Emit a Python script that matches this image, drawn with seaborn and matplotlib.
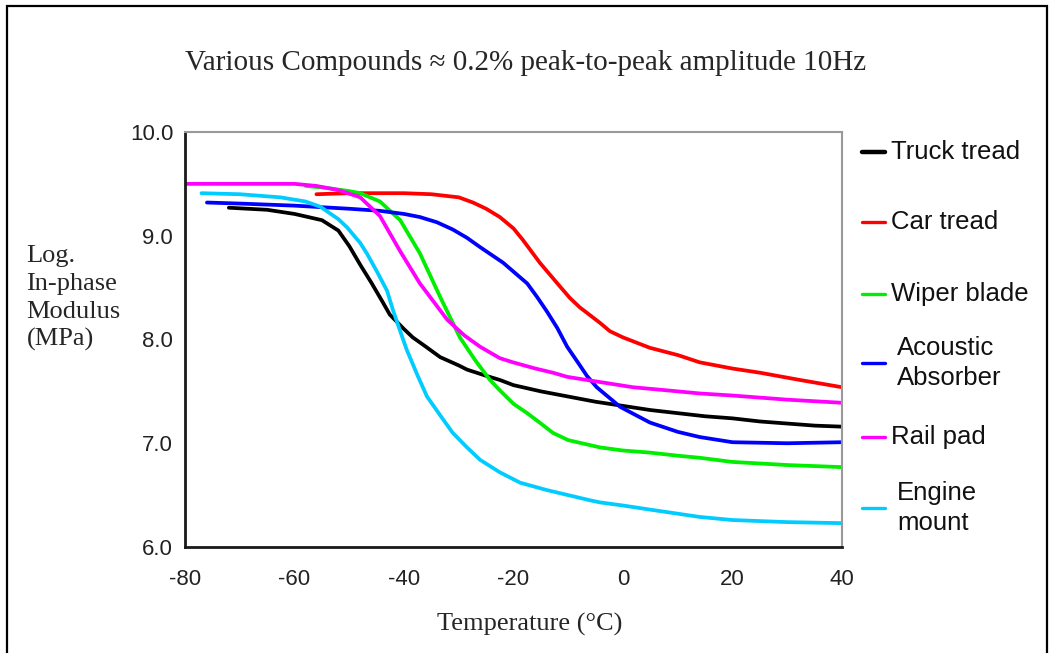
import pandas as pd
import matplotlib.pyplot as plt
from matplotlib.lines import Line2D
from matplotlib.patches import Rectangle
import seaborn as sns

# values
truck_x = [-72, -65, -60, -55, -52, -50, -48, -46, -44, -42.6, -40, -38.4, -36, -33.4, -30, -28.5, -25, -22.5,
           -20, -15, -10, -5, 0, 5, 10, 15, 20, 25, 30, 35, 40]
truck_y = [9.27, 9.25, 9.21, 9.15, 9.05, 8.9, 8.72, 8.55, 8.37, 8.24, 8.1, 8.02, 7.93, 7.83, 7.75, 7.71, 7.65, 7.61,
           7.56, 7.5, 7.45, 7.4, 7.36, 7.32, 7.29, 7.26, 7.24, 7.21, 7.19, 7.17, 7.16]

car_x = [-56, -50, -40, -35, -30, -27.4, -25, -22.5, -20, -18.3, -15.2, -11.5, -9.7, -7.9, -4.2, -2.4, 0, 4.9,
         10, 14, 20, 25, 32.3, 40]
car_y = [9.40, 9.41, 9.41, 9.40, 9.37, 9.32, 9.26, 9.18, 9.07, 8.96, 8.74, 8.51, 8.40, 8.31, 8.16, 8.08, 8.02, 7.92,
         7.85, 7.78, 7.72, 7.68, 7.61, 7.54]

wiper_x = [-58, -54, -50, -48, -44.4, -40.7, -37.1, -33.4, -29.8, -27, -24.3, -22.5, -20, -17.5, -15, -12.8, -10,
           -4.2, 0, 4.9, 10, 14, 20, 30, 40]
wiper_y = [9.48, 9.46, 9.43, 9.41, 9.33, 9.15, 8.83, 8.41, 8.02, 7.8, 7.61, 7.51, 7.38, 7.29, 7.19, 7.10, 7.03,
           6.96, 6.93, 6.91, 6.88, 6.86, 6.82, 6.79, 6.77]

acoustic_x = [-76, -70, -60, -50, -44.4, -40, -37.1, -34, -31.1, -28.5, -26.1, -21.9, -17.5, -15.7, -13.9, -12,
              -10.2, -8, -6.6, -4.8, -0.5, 4.9, 10, 14, 20, 30, 40]
acoustic_y = [9.32, 9.31, 9.29, 9.26, 9.24, 9.21, 9.18, 9.13, 9.06, 8.98, 8.89, 8.74, 8.54, 8.41, 8.27, 8.11,
              7.93, 7.76, 7.65, 7.54, 7.35, 7.20, 7.11, 7.06, 7.01, 7.00, 7.01]

rail_x = [-80, -70, -60, -56, -52, -48, -44.4, -40.7, -37.1, -32.1, -29, -26.1, -22.5, -20.1, -16, -12.8, -10.2,
          -4.2, 1.8, 8, 14, 20, 30, 40]
rail_y = [9.50, 9.50, 9.50, 9.48, 9.44, 9.37, 9.19, 8.85, 8.54, 8.19, 8.04, 7.93, 7.82, 7.78, 7.72, 7.68, 7.64,
          7.59, 7.54, 7.51, 7.48, 7.46, 7.42, 7.39]

engine_x = [-77, -70, -62.6, -58, -55.3, -52, -50.4, -48, -46.8, -45, -43.1, -42, -40.5, -39.5, -37.5, -35.8, -33,
            -31.1, -28.5, -26.1, -22.5, -18.8, -14, -10, -6, -4.2, 0, 5, 14, 20, 30, 40]
engine_y = [9.41, 9.40, 9.37, 9.33, 9.28, 9.16, 9.08, 8.93, 8.83, 8.66, 8.47, 8.28, 8.05, 7.90, 7.65, 7.45, 7.24,
            7.10, 6.96, 6.84, 6.72, 6.62, 6.55, 6.50, 6.45, 6.43, 6.40, 6.36, 6.29, 6.26, 6.24, 6.23]

names = ['Truck tread', 'Car tread', 'Wiper blade', 'Acoustic Absorber', 'Rail pad', 'Engine mount']
legend_labels = ['Truck tread', 'Car tread', 'Wiper blade', 'Acoustic\nAbsorber', 'Rail pad', 'Engine\nmount']
colors = ['#000000', '#ff0000', '#00ee00', '#0000ff', '#ff00ff', '#00ccff']

yticks = [6, 7, 8, 9, 10]
ytick_labels = ['6.0', '7.0', '8.0', '9.0', '10.0']
xticks = [-80, -60, -40, -20, 0, 20, 40]
xtick_labels = ['-80', '-60', '-40', '-20', '0', '20', '40']

xs = [truck_x, car_x, wiper_x, acoustic_x, rail_x, engine_x]
ys = [truck_y, car_y, wiper_y, acoustic_y, rail_y, engine_y]
df = pd.concat([pd.DataFrame({'Temp': x, 'Modulus': y, 'Compound': n}) for x, y, n in zip(xs, ys, names)])

sns.set_style('white')
plt.rcParams['font.family'] = ['Liberation Sans', 'DejaVu Sans']

fig = plt.figure(figsize=(10.55, 6.53), dpi=100)
ax = fig.add_axes([0.1754, 0.1623, 0.6227, 0.6356])

sns.lineplot(data=df, x='Temp', y='Modulus', hue='Compound', hue_order=names,
             palette=colors, estimator=None, sort=False, linewidth=2.7, legend=False, ax=ax)

ax.set_xlim(-80, 40)
ax.set_ylim(6, 10)
ax.set_xticks(xticks)
ax.set_xticklabels(xtick_labels)
ax.set_yticks(yticks)
ax.set_yticklabels(ytick_labels)
ax.set_yticks([6.5, 7.5, 8.5, 9.5], minor=True)
ax.tick_params(axis='both', which='both', direction='inout', length=9, width=1.2, color='black',
               labelsize=16, labelcolor='#222222')
ax.tick_params(axis='x', pad=11)
ax.tick_params(axis='y', pad=4)
ax.set_xlabel('')
ax.set_ylabel('')

for side in ['left', 'bottom']:
    ax.spines[side].set_color('#1a1a1a')
    ax.spines[side].set_linewidth(2)
for side in ['top', 'right']:
    ax.spines[side].set_color('#999999')
    ax.spines[side].set_linewidth(1.5)

serif = ['Liberation Serif', 'DejaVu Serif']
fig.text(0.4985, 0.904, 'Various Compounds \u2248 0.2% peak-to-peak amplitude 10Hz',
         ha='center', va='center', fontsize=21, family=serif)
fig.text(0.502, 0.043, 'Temperature (\u00b0C)', ha='center', va='center', fontsize=19, family=serif)
fig.text(0.025, 0.543, 'Log.\nIn-phase\nModulus\n(MPa)', ha='left', va='center', fontsize=19,
         family=serif, linespacing=1.33)

# legend drawn at the right, one entry every ~71 px
leg_y = [152, 222, 294, 363, 437, 508]
for lab, col, py in zip(legend_labels, colors, leg_y):
    yf = 1 - py / 653
    two = '\n' in lab
    fig.add_artist(Line2D([862 / 1055, 885 / 1055], [yf, yf], color=col,
                          linewidth=3.2 if col == '#000000' else 2.4, transform=fig.transFigure))
    fig.text((897 if two else 891) / 1055, yf, lab, ha='left', va='center', fontsize=18.5,
             color='#111111', linespacing=1.3)

fig.add_artist(Rectangle((7 / 1055, -0.05), 1040 / 1055, 1.05 - 6 / 653, fill=False,
                         edgecolor='black', linewidth=1.6, transform=fig.transFigure))

fig.savefig('out.png', dpi=100)
